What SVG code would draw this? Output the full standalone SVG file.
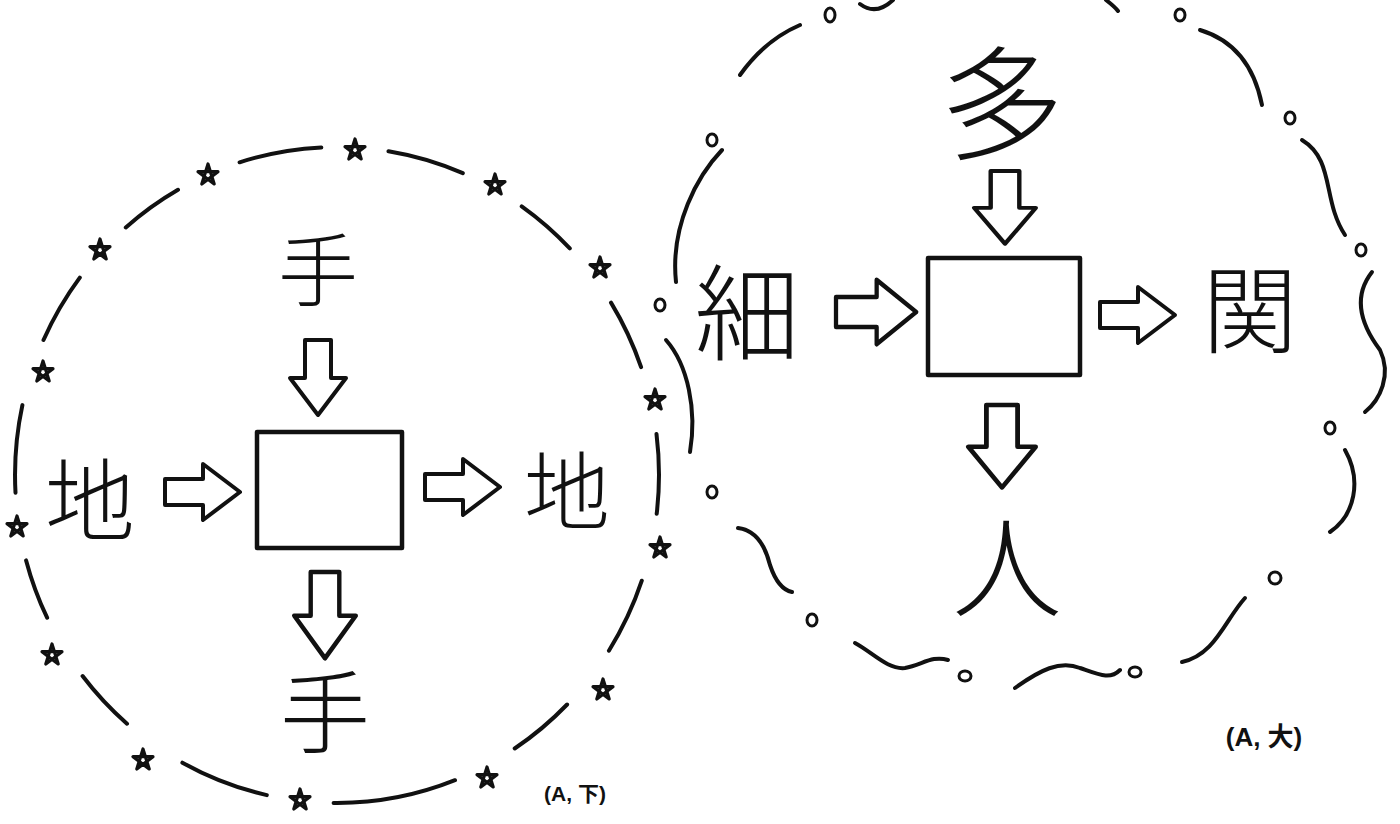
<svg xmlns="http://www.w3.org/2000/svg" width="1400" height="824" viewBox="0 0 1400 824">
<style>
.ln{fill:none;stroke:#111;stroke-width:4;stroke-linecap:round;stroke-linejoin:round}
.bx{fill:none;stroke:#111;stroke-width:4.5;stroke-linejoin:round}
.arr{fill:#fff;stroke:#111;stroke-width:4;stroke-linejoin:round}
.kj{font-family:"Noto Sans CJK JP","Noto Sans CJK SC",sans-serif;font-weight:300;fill:#111;text-anchor:middle}
.lb{font-family:"Liberation Sans","Noto Sans CJK JP",sans-serif;fill:#111;text-anchor:middle}
.st{fill:none;stroke:#111;stroke-width:3.2;stroke-linejoin:round}
.ov{fill:none;stroke:#111;stroke-width:3}
</style>
<defs>
<path id="star" d="M0,-11 L6.2,9 L-10,-3.3 L10,-3.3 L-6.2,9 Z"/>
<path id="ra" d="M0,-13 L38,-13 L38,-28 L75,0 L38,28 L38,13 L0,13 Z"/>
</defs>
<rect width="1400" height="824" fill="#fff"/>

<g id="left-ring">
<path class="ln" d="M15.5,492.7 A322,328 0 0 1 22.4,405.1 M43.5,340 A322,328 0 0 1 79.8,277.6 M125.8,227.5 A322,328 0 0 1 178,189.8 M239.6,162.3 A322,328 0 0 1 321.3,147.4 M388.5,151.2 A322,328 0 0 1 462.8,173.1 M521.7,206.3 A322,328 0 0 1 569.8,248.4 M611,302.6 A322,328 0 0 1 641.1,367.1 M656.5,433.9 A322,328 0 0 1 656.7,513.8 M641.8,580.7 A322,328 0 0 1 608.9,650.7 M567.1,704.5 A322,328 0 0 1 514.7,748.5 M455,780.2 A322,328 0 0 1 333.6,803 M266.8,795.1 A322,328 0 0 1 182.4,762.7 M127,723.7 A322,328 0 0 1 82.6,676 M47.1,617.7 A322,328 0 0 1 26.1,560.4"/>
<g class="st">
<use href="#star" x="17" y="527"/><use href="#star" x="43" y="372"/><use href="#star" x="100" y="250"/><use href="#star" x="208" y="175"/><use href="#star" x="355" y="150"/><use href="#star" x="495" y="185"/><use href="#star" x="600" y="268"/><use href="#star" x="655" y="400"/><use href="#star" x="660" y="548"/><use href="#star" x="603" y="690"/><use href="#star" x="487" y="778"/><use href="#star" x="300" y="800"/><use href="#star" x="143" y="760"/><use href="#star" x="52" y="655"/>
</g>
</g>

<g id="right-cloud">
<g class="ln">
<path d="M800,25 Q765,40 740,75"/>
<path d="M860,4 Q876,16 893,0"/>
<path d="M1106,0 Q1115,7 1118,11"/>
<path d="M1200,30 Q1250,45 1262,105"/>
<path d="M1302,140 C1335,160 1322,200 1345,235"/>
<path d="M1372,272 C1350,300 1365,330 1380,350 C1392,375 1380,400 1365,412"/>
<path d="M1345,450 C1362,480 1355,515 1330,532"/>
<path d="M1182,662 C1215,655 1225,620 1245,598"/>
<path d="M1015,688 C1040,670 1060,660 1080,668 C1100,675 1110,680 1120,670"/>
<path d="M855,643 C872,652 888,670 905,668 C922,665 932,655 948,660"/>
<path d="M738,528 C755,530 765,545 770,565 C775,580 782,590 792,592"/>
<path d="M666,340 C688,365 697,410 690,452"/>
<path d="M722,150 C698,175 670,225 676,282"/>
</g>
<g class="ov">
<ellipse cx="830" cy="15" rx="5" ry="7"/>
<ellipse cx="1180" cy="15" rx="5" ry="6"/>
<ellipse cx="1290" cy="118" rx="5" ry="6"/>
<ellipse cx="1361" cy="250" rx="5" ry="6"/>
<ellipse cx="1330" cy="428" rx="5" ry="6"/>
<ellipse cx="1275" cy="578" rx="6" ry="6"/>
<ellipse cx="1135" cy="672" rx="6" ry="5"/>
<ellipse cx="965" cy="676" rx="6" ry="5"/>
<ellipse cx="812" cy="620" rx="5" ry="6"/>
<ellipse cx="712" cy="492" rx="5" ry="6"/>
<ellipse cx="660" cy="305" rx="5" ry="6"/>
<ellipse cx="712" cy="140" rx="5" ry="6"/>
</g>
</g>

<g id="left-box"><rect class="bx" x="257" y="432" width="145" height="116"/></g>
<g id="left-top"><text class="kj" x="318" y="300" font-size="80">手</text></g>
<g id="left-left"><text class="kj" x="90" y="534" font-size="90">地</text></g>
<g id="left-right"><text class="kj" x="567" y="524" font-size="86">地</text></g>
<g id="left-bottom"><text class="kj" x="325" y="746" font-size="90">手</text></g>
<g id="left-label"><text class="lb" x="575" y="801" font-size="21" font-weight="bold">(A, 下)</text></g>

<g id="right-box"><rect class="bx" x="928" y="258" width="152" height="117"/></g>
<g id="right-top"><text class="kj" x="1002" y="150" font-size="124">多</text></g>
<g id="right-left"><text class="kj" x="747" y="352" font-size="105">細</text></g>
<g id="right-right"><text class="kj" x="1250" y="346" font-size="95">関</text></g>
<g id="right-bottom"><text class="kj" x="1007" y="609" font-size="110">人</text></g>
<g id="right-label"><text class="lb" x="1264" y="746" font-size="26" font-weight="bold">(A, 大)</text></g>

<g id="connectors">
<use class="arr" href="#ra" transform="translate(165,492)"/>
<use class="arr" href="#ra" transform="translate(425,487)"/>
<use class="arr" href="#ra" transform="translate(318,340) rotate(90)"/>
<use class="arr" href="#ra" transform="translate(325,572) rotate(90) scale(1.15,1.1)"/>
<use class="arr" href="#ra" transform="translate(836,312) scale(1.07,1.15)"/>
<use class="arr" href="#ra" transform="translate(1100,315)"/>
<use class="arr" href="#ra" transform="translate(1005,171) rotate(90) scale(0.97,1.1)"/>
<use class="arr" href="#ra" transform="translate(1002,405) rotate(90) scale(1.1,1.2)"/>
</g>
</svg>
